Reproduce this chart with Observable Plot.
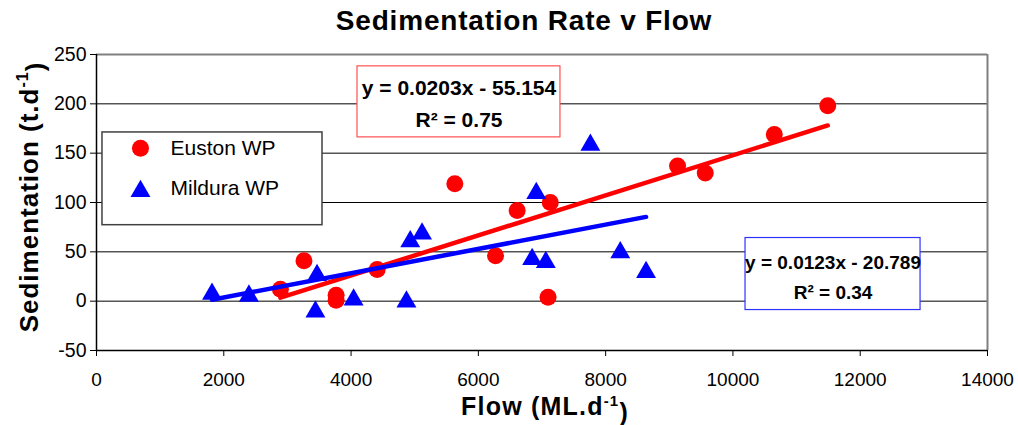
<!DOCTYPE html>
<html>
<head>
<meta charset="utf-8">
<script src="https://cdn.jsdelivr.net/npm/d3@7"></script>
<script src="https://cdn.jsdelivr.net/npm/@observablehq/plot@0.6"></script>
<style>
  html, body { margin: 0; padding: 0; background: #fff; }
  body { width: 1018px; height: 425px; overflow: hidden; font-family: "Liberation Sans", Arial, sans-serif; }
  #title { height: 40px; line-height: 42px; font-size: 28px; font-weight: bold; letter-spacing: 0.8px;
           text-align: center; padding-left: 30px; box-sizing: border-box; width: 1018px; color: #000; }
</style>
</head>
<body>
<div id="title">Sedimentation Rate v Flow</div>
<div id="chart"></div>
<script>
// ---- data ----
const eustonFlow = [2890, 3260, 3765, 3765, 4410, 5630, 6270, 6610, 7130, 7095, 9130, 9565, 10650, 11490];
const eustonSed  = [12, 41, 6, 1, 32, 119, 46, 92, 100, 4, 137, 130, 169, 198];
const milduraFlow = [1815, 2395, 3465, 3440, 4040, 4870, 4930, 5115, 6910, 6845, 7060, 7760, 8230, 8635];
const milduraSed  = [10, 8, 29, -8, 4, 2, 63, 71, 112, 45, 42, 161, 52, 32];
const eustonTrendFlow = [2890, 11490];
const eustonTrendSed  = [3.5, 178.1];
const milduraTrendFlow = [1815, 8635];
const milduraTrendSed  = [1.5, 85.4];
const xTicks = [0, 2000, 4000, 6000, 8000, 10000, 12000, 14000];
const yTicks = [-50, 0, 50, 100, 150, 200, 250];
const gridY = [0, 50, 100, 150, 200];
const seriesNames = ["Euston WP", "Mildura WP"];
const eqEuston = "y = 0.0203x - 55.154\nR² = 0.75";
const eqMildura = "y = 0.0123x - 20.789\nR² = 0.34";

const euston = eustonFlow.map((x, i) => ({x, y: eustonSed[i]}));
const mildura = milduraFlow.map((x, i) => ({x, y: milduraSed[i]}));
const eTrend = eustonTrendFlow.map((x, i) => ({x, y: eustonTrendSed[i]}));
const mTrend = milduraTrendFlow.map((x, i) => ({x, y: milduraTrendSed[i]}));

const RED = "#ff0000", BLUE = "#0000ff";

const chart = Plot.plot({
  width: 1018,
  height: 385,
  marginTop: 14,
  marginLeft: 96,
  marginRight: 31,
  marginBottom: 75,
  style: {fontFamily: "'Liberation Sans', Arial, sans-serif", color: "#000", background: "#fff"},
  x: {domain: [0, 14000]},
  y: {domain: [-50, 250]},
  marks: [
    Plot.ruleY(gridY, {stroke: "#000", strokeWidth: 1}),
    Plot.ruleY([250], {stroke: "#808080", strokeWidth: 2}),
    Plot.ruleX([14000], {stroke: "#808080", strokeWidth: 2}),
    Plot.axisX({ticks: xTicks, tickFormat: d => String(d), tickSize: 6, tickPadding: 16,
                fontSize: 19, label: null, stroke: "#000"}),
    Plot.axisY({ticks: yTicks, tickFormat: d => String(d), tickSize: 6, tickPadding: 4,
                fontSize: 19.5, label: null, stroke: "#000"}),
    Plot.ruleX([0], {stroke: "#000", strokeWidth: 1.5}),
    Plot.ruleY([-50], {stroke: "#000", strokeWidth: 1.5}),
    // legend box
    Plot.rect([0], {x1: 94, x2: 3551, y1: 77, y2: 171, fill: "#fff", stroke: "#404040", strokeWidth: 1.5}),
    // equation boxes
    Plot.rect([0], {x1: 4101, x2: 7290, y1: 166, y2: 238, fill: "#fff", stroke: "#ff5050", strokeWidth: 1.2}),
    Plot.rect([0], {x1: 10198, x2: 12948, y1: -9, y2: 64, fill: "#fff", stroke: "#3030ff", strokeWidth: 1.2}),
    // data
    Plot.dot(euston, {x: "x", y: "y", r: 8.5, fill: RED}),
    Plot.dot(mildura, {x: "x", y: "y", r: 7.4, symbol: "triangle", fill: BLUE, dy: 2.6}),
    Plot.line(eTrend, {x: "x", y: "y", stroke: RED, strokeWidth: 4.5}),
    Plot.line(mTrend, {x: "x", y: "y", stroke: BLUE, strokeWidth: 4.5}),
    // legend entries
    Plot.dot([seriesNames[0]], {x: 691, y: 155, r: 8.5, fill: RED}),
    Plot.dot([seriesNames[1]], {x: 691, y: 114, r: 7.4, symbol: "triangle", fill: BLUE, dy: 2.6}),
    Plot.text([seriesNames[0]], {x: 1163, y: 155, text: d => d, textAnchor: "start", fontSize: 21, fill: "#000"}),
    Plot.text([seriesNames[1]], {x: 1163, y: 114, text: d => d, textAnchor: "start", fontSize: 21, fill: "#000"}),
    // equations
    Plot.text([eqEuston], {x: 5696, y: 203, text: d => d, fontSize: 21, fontWeight: "bold", lineHeight: 1.5, fill: "#000"}),
    Plot.text([eqMildura], {x: 11573, y: 27, text: d => d, fontSize: 19, fontWeight: "bold", lineHeight: 1.55, fill: "#000"})
  ]
});

document.getElementById("chart").appendChild(chart);

// axis titles with superscripts
const svg = d3.select(chart);
const xl = svg.append("text")
  .attr("x", 545).attr("y", 375)
  .attr("text-anchor", "middle")
  .style("font-size", "25px").style("font-weight", "bold").style("letter-spacing", "1.2px")
  .attr("fill", "#000");
xl.append("tspan").text("Flow (ML.d");
xl.append("tspan").attr("dy", "-0.6em").style("font-size", "15px").text("-1");
xl.append("tspan").attr("dy", "0.6em").text(")");

const yl = svg.append("text")
  .attr("transform", "translate(38,157) rotate(-90)")
  .attr("text-anchor", "middle")
  .style("font-size", "26px").style("font-weight", "bold").style("letter-spacing", "1px")
  .attr("fill", "#000");
yl.append("tspan").text("Sedimentation (t.d");
yl.append("tspan").attr("dy", "-0.6em").style("font-size", "16px").text("-1");
yl.append("tspan").attr("dy", "0.6em").text(")");
</script>
</body>
</html>
